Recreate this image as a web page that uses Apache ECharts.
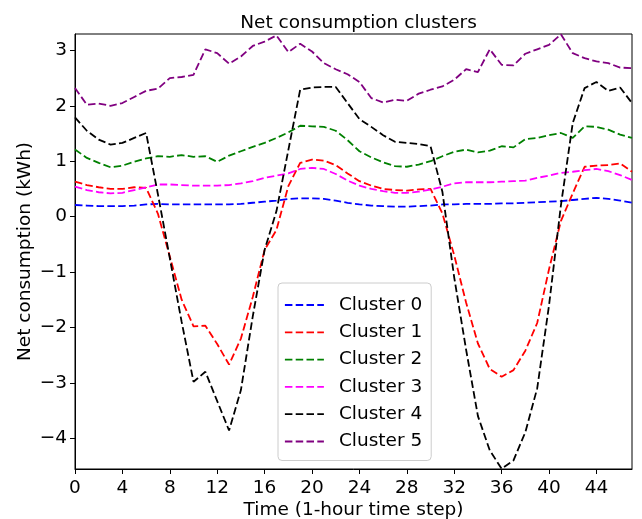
<!DOCTYPE html>
<html>
<head>
<meta charset="utf-8">
<title>Net consumption clusters</title>
<script src="https://cdn.jsdelivr.net/npm/echarts@6/dist/echarts.min.js"></script>
<style>
  html, body { margin: 0; padding: 0; background: #ffffff; }
  #chart { width: 642px; height: 519px; }
</style>
</head>
<body>
<div id="chart"></div>
<script>
// Hour index of the two-day profile (1-hour steps)
const hours = Array.from({ length: 48 }, (_, i) => i);

// Mean net consumption per cluster (kWh)
const cluster0 = [0.21, 0.20, 0.19, 0.19, 0.19, 0.20, 0.22, 0.23, 0.22, 0.22, 0.22, 0.22, 0.22, 0.22, 0.23, 0.25,
                  0.27, 0.29, 0.32, 0.33, 0.33, 0.32, 0.29, 0.25, 0.22, 0.20, 0.19, 0.18, 0.18, 0.19, 0.20, 0.22,
                  0.22, 0.23, 0.23, 0.23, 0.24, 0.24, 0.25, 0.26, 0.27, 0.28, 0.30, 0.32, 0.34, 0.32, 0.29, 0.25];
const cluster1 = [0.63, 0.57, 0.53, 0.50, 0.50, 0.53, 0.52, 0.05, -0.72, -1.50, -1.98, -1.97, -2.30, -2.67, -2.20, -1.45,
                  -0.60, -0.24, 0.55, 0.97, 1.03, 1.01, 0.93, 0.78, 0.64, 0.56, 0.50, 0.48, 0.47, 0.49, 0.50, 0.06,
                  -0.70, -1.55, -2.29, -2.75, -2.89, -2.77, -2.42, -1.92, -0.95, -0.08, 0.42, 0.90, 0.92, 0.93, 0.96, 0.81];
const cluster2 = [1.21, 1.06, 0.97, 0.89, 0.92, 0.99, 1.05, 1.09, 1.08, 1.11, 1.08, 1.09, 0.99, 1.10, 1.18, 1.26,
                  1.33, 1.42, 1.52, 1.64, 1.63, 1.62, 1.55, 1.38, 1.18, 1.07, 0.98, 0.91, 0.90, 0.94, 1.00, 1.09,
                  1.17, 1.21, 1.16, 1.19, 1.27, 1.25, 1.40, 1.42, 1.47, 1.51, 1.42, 1.63, 1.62, 1.57, 1.48, 1.42];
const cluster3 = [0.54, 0.48, 0.44, 0.42, 0.43, 0.48, 0.53, 0.58, 0.58, 0.57, 0.56, 0.56, 0.56, 0.57, 0.60, 0.64,
                  0.70, 0.74, 0.78, 0.86, 0.88, 0.86, 0.77, 0.65, 0.56, 0.50, 0.46, 0.43, 0.43, 0.45, 0.49, 0.54,
                  0.60, 0.62, 0.62, 0.62, 0.63, 0.64, 0.65, 0.70, 0.74, 0.79, 0.81, 0.84, 0.86, 0.82, 0.75, 0.66];
const cluster4 = [1.79, 1.55, 1.39, 1.30, 1.33, 1.42, 1.51, 0.40, -0.75, -1.90, -2.98, -2.80, -3.33, -3.86, -3.13, -1.80,
                  -0.60, 0.10, 1.20, 2.29, 2.33, 2.34, 2.34, 2.05, 1.76, 1.62, 1.47, 1.35, 1.33, 1.31, 1.27, 0.45,
                  -1.10, -2.40, -3.60, -4.22, -4.55, -4.40, -3.89, -3.10, -1.60, 0.20, 1.69, 2.32, 2.43, 2.27, 2.33, 2.05];
const cluster5 = [2.32, 2.02, 2.04, 2.00, 2.05, 2.16, 2.27, 2.31, 2.50, 2.52, 2.56, 3.02, 2.95, 2.76, 2.89, 3.08,
                  3.16, 3.27, 2.97, 3.12, 2.98, 2.77, 2.66, 2.57, 2.43, 2.14, 2.06, 2.11, 2.09, 2.22, 2.29, 2.35,
                  2.47, 2.66, 2.61, 3.02, 2.74, 2.73, 2.94, 3.02, 3.10, 3.29, 2.95, 2.86, 2.80, 2.77, 2.69, 2.68];

const seriesNames = ['Cluster 0', 'Cluster 1', 'Cluster 2', 'Cluster 3', 'Cluster 4', 'Cluster 5'];
const seriesValues = [cluster0, cluster1, cluster2, cluster3, cluster4, cluster5];
const seriesColors = ['#0000ff', '#ff0000', '#008000', '#ff00ff', '#000000', '#800080'];

const xTicks = [0, 4, 8, 12, 16, 20, 24, 28, 32, 36, 40, 44];
const yTicks = [-4, -3, -2, -1, 0, 1, 2, 3];

const FONT = 'DejaVu Sans';
const FS = 18.5;

const chart = echarts.init(document.getElementById('chart'), null, { renderer: 'canvas' });

const series = seriesNames.map((name, k) => ({
  name: name,
  type: 'line',
  data: hours.map((h, i) => [h, seriesValues[k][i]]),
  symbol: 'none',
  showSymbol: false,
  clip: true,
  animation: false,
  color: seriesColors[k],
  lineStyle: { color: seriesColors[k], width: 1.8, type: [7.5, 3.3] }
}));

chart.setOption({
  animation: false,
  backgroundColor: '#ffffff',
  textStyle: { fontFamily: FONT, color: '#000' },
  title: {
    text: 'Net consumption clusters',
    left: 353.5,
    textAlign: 'center',
    top: 9,
    textStyle: { fontFamily: FONT, fontSize: FS, fontWeight: 'normal', color: '#000' }
  },
  grid: {
    left: 75, right: 10, top: 34, bottom: 50,
    outerBoundsMode: 'none',
    containLabel: false,
    show: true, borderColor: '#000', borderWidth: 1, backgroundColor: 'transparent'
  },
  legend: {
    orient: 'vertical',
    left: 278,
    top: 283,
    data: seriesNames,
    itemWidth: 39,
    itemHeight: 14,
    itemGap: 7.3,
    padding: [12, 9, 9, 6],
    backgroundColor: 'rgba(255,255,255,0.8)',
    borderColor: '#cccccc',
    borderWidth: 1,
    borderRadius: 4,
    itemStyle: { opacity: 0 },
    lineStyle: { width: 1.8, type: [7.5, 3.3] },
    textStyle: { fontFamily: FONT, fontSize: FS, lineHeight: 20, color: '#000', padding: [0, 0, 0, 10] }
  },
  xAxis: {
    type: 'value',
    min: 0,
    max: 47,
    name: 'Time (1-hour time step)',
    nameLocation: 'middle',
    nameGap: 32,
    nameMoveOverlap: false,
    nameTextStyle: { fontFamily: FONT, fontSize: FS, color: '#000' },
    axisLine: { show: true, onZero: false, lineStyle: { color: '#000', width: 1 } },
    axisTick: { show: true, inside: false, length: 5, lineStyle: { color: '#000' }, customValues: xTicks },
    axisLabel: { fontFamily: FONT, fontSize: FS, color: '#000', margin: 10, customValues: xTicks },
    splitLine: { show: false }
  },
  yAxis: {
    type: 'value',
    min: -4.555,
    max: 3.296,
    name: 'Net consumption (kWh)',
    nameLocation: 'middle',
    nameGap: 40,
    nameMoveOverlap: false,
    nameRotate: 90,
    nameTextStyle: { fontFamily: FONT, fontSize: FS, color: '#000' },
    axisLine: { show: true, onZero: false, lineStyle: { color: '#000', width: 1 } },
    axisTick: { show: true, inside: false, length: 5, lineStyle: { color: '#000' }, customValues: yTicks },
    axisLabel: {
      fontFamily: FONT, fontSize: FS, color: '#000', margin: 8, customValues: yTicks,
      formatter: v => (v < 0 ? '\u2212' + Math.abs(v) : String(v))
    },
    splitLine: { show: false }
  },
  series: series
});
</script>
</body>
</html>
